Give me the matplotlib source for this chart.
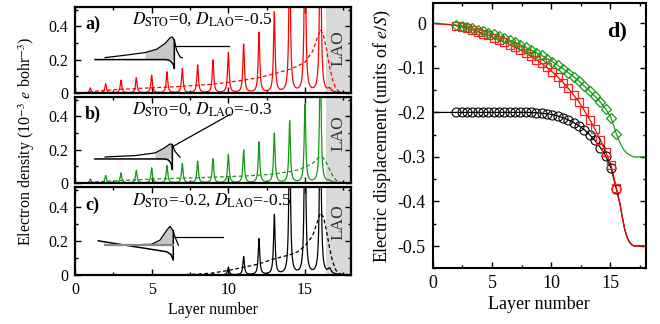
import numpy as np
import matplotlib.pyplot as plt
from matplotlib.ticker import MultipleLocator, FuncFormatter

plt.rcParams['font.family'] = ['Liberation Serif', 'DejaVu Serif']
plt.rcParams['mathtext.fontset'] = 'stix'
plt.rcParams['axes.unicode_minus'] = False

# ---- panels a-c: electron density per layer ----
layers = np.arange(1, 17)
peaks_a = [0.03, 0.055, 0.076, 0.09, 0.106, 0.126, 0.146, 0.166, 0.196, 0.24,
           0.29, 0.36, 0.48, 0.9, 1.0, 1.1]
peaks_b = [0.024, 0.044, 0.06, 0.074, 0.09, 0.104, 0.116, 0.13, 0.144, 0.17,
           0.196, 0.244, 0.296, 0.37, 0.47, 0.8]
peaks_c = [0, 0, 0, 0, 0, 0, 0, 0.002, 0.006, 0.045,
           0.107, 0.21, 0.35, 0.9, 1.0, 1.1]
shoulder = [0.02, 0.01, 0.03]          # small shoulder behind last peak (a, b, c)

avg_x_a = [0.5, 1, 1.5, 2, 3, 4, 5, 6, 7, 8, 9, 10, 11, 12, 13, 14, 14.5, 15,
           15.5, 15.8, 16.0, 16.2, 16.4, 16.6, 16.8, 17.0, 17.2, 17.5]
avg_a = [0, 0.008, 0.012, 0.016, 0.022, 0.027, 0.031, 0.035, 0.04, 0.046, 0.053,
         0.064, 0.077, 0.092, 0.115, 0.142, 0.16, 0.185, 0.25, 0.33, 0.38, 0.35,
         0.26, 0.16, 0.08, 0.03, 0.01, 0]
avg_x_b = avg_x_a
avg_b = [0, 0.005, 0.008, 0.01, 0.015, 0.019, 0.023, 0.026, 0.029, 0.032, 0.035,
         0.038, 0.042, 0.047, 0.054, 0.068, 0.078, 0.095, 0.118, 0.145, 0.158,
         0.15, 0.12, 0.08, 0.045, 0.02, 0.007, 0]
avg_x_c = [6, 7, 8, 9, 10, 11, 12, 13, 14, 14.5, 15, 15.5, 15.8, 16.0, 16.2,
           16.4, 16.6, 16.8, 17.0, 17.2, 17.5]
avg_c = [0, 0.002, 0.005, 0.012, 0.027, 0.045, 0.065, 0.095, 0.118, 0.135, 0.17,
         0.23, 0.31, 0.363, 0.34, 0.26, 0.16, 0.08, 0.03, 0.01, 0]

labels = ['a)', 'b)', 'c)']
titles = [r'$D_{\rm STO}$=0, $D_{\rm LAO}$=-0.5',
          r'$D_{\rm STO}$=0, $D_{\rm LAO}$=-0.3',
          r'$D_{\rm STO}$=-0.2, $D_{\rm LAO}$=-0.5']
colors = ['#ff0000', '#129a12', '#000000']

# inset sketches (band profile), data coords of each panel
ins_up_x = [[1.96, 3.26, 4.57, 5.33, 5.87, 6.2, 6.35, 6.48, 6.63, 6.85, 7.0],
            [1.96, 3.91, 5.22, 5.76, 6.2, 6.35, 6.52, 6.85],
            [4.0, 5.0, 5.54, 5.98, 6.2, 6.41, 6.52, 6.74]]
ins_up_y = [[0.212, 0.226, 0.242, 0.262, 0.296, 0.33, 0.336, 0.316, 0.256, 0.216, 0.21],
            [0.156, 0.164, 0.18, 0.206, 0.234, 0.23, 0.19, 0.154],
            [0.177, 0.18, 0.204, 0.262, 0.285, 0.258, 0.223, 0.175]]
ins_fill = [(2, 7, 0.2), (2, 5, 0.144), (0, 5, 0.175)]   # start idx, edge idx, base
ins_lo_x = [[1.3, 5.9, 6.15, 6.3, 6.42, 6.48, 6.48],
            [1.3, 5.8, 6.05, 6.2, 6.3, 6.35, 6.35],
            [1.52, 5.0, 5.98, 6.26, 6.41, 6.41]]
ins_lo_y = [[0.2, 0.2, 0.196, 0.185, 0.168, 0.146, 0.316],
            [0.144, 0.144, 0.14, 0.128, 0.108, 0.08, 0.23],
            [0.2, 0.15, 0.136, 0.12, 0.087, 0.258]]
ins_r_x = [[6.52, 10.05], [6.41, 10.1], [6.52, 9.67]]
ins_r_y = [[0.282, 0.282], [0.22, 0.41], [0.223, 0.223]]

# ---- panel d: electric displacement ----
d_x = np.linspace(2.0, 15.5, 31)
d_red = [-0.005, -0.008, -0.011, -0.015, -0.019, -0.023, -0.027, -0.032, -0.037,
         -0.042, -0.048, -0.054, -0.060, -0.067, -0.074, -0.082, -0.090, -0.099,
         -0.109, -0.120, -0.133, -0.146, -0.161, -0.177, -0.196, -0.216, -0.238,
         -0.262, -0.288, -0.318, -0.370]
d_green = [-0.004, -0.006, -0.008, -0.011, -0.014, -0.017, -0.021, -0.025, -0.029,
           -0.033, -0.038, -0.043, -0.048, -0.054, -0.060, -0.066, -0.072, -0.079,
           -0.086, -0.094, -0.102, -0.111, -0.120, -0.130, -0.141, -0.152, -0.164,
           -0.177, -0.192, -0.212, -0.248]
d_black = [-0.2] * 15 + [-0.201, -0.202, -0.203, -0.205, -0.208, -0.212, -0.217,
                         -0.223, -0.230, -0.239, -0.250, -0.263, -0.279, -0.298,
                         -0.325, -0.372]
head_x = [0, 0.5, 1.0, 1.5]
head_red = [0, -0.001, -0.002, -0.003]
head_black = [-0.2, -0.2, -0.2, -0.2]
tail_x_red = [15.8, 16.0, 16.2, 16.4, 16.6, 16.8, 17.0, 18.0]
tail_red = [-0.405, -0.435, -0.462, -0.48, -0.491, -0.497, -0.5, -0.5]
tail_x_green = [15.8, 16.1, 16.4, 16.7, 17.0, 18.0]
tail_green = [-0.268, -0.283, -0.292, -0.297, -0.3, -0.3]

fig = plt.figure(figsize=(6.6, 3.24), dpi=100)
boxes = [(0.1136, 0.713, 0.4182, 0.2654),
         (0.1136, 0.4352, 0.4182, 0.2654),
         (0.1136, 0.1512, 0.4182, 0.2716)]
peaks = [peaks_a, peaks_b, peaks_c]
avgx = [avg_x_a, avg_x_b, avg_x_c]
avgy = [avg_a, avg_b, avg_c]
lao_y = [0.27, 0.30, 0.31]
gam = 0.06

xx = np.linspace(0, 18, 4000)


def tick_fmt(v, p):
    v = round(v, 6)
    return '0' if v == 0 else f'{v:g}'


fmt = FuncFormatter(tick_fmt)
for i in range(3):
    ax = fig.add_axes(boxes[i])
    ax.axvspan(16.4, 18, color='#d9d9d9', lw=0, zorder=0)
    dens = np.zeros_like(xx)
    for p, h in zip(layers, peaks[i]):
        dens += h * gam**2 / ((xx - p)**2 + gam**2)
    dens += shoulder[i] * 0.12**2 / ((xx - 16.6)**2 + 0.12**2)
    ax.plot(xx, dens, color=colors[i], lw=0.9)
    ax.plot(avgx[i], avgy[i], color=colors[i], lw=0.9, ls=(0, (3, 2)))
    # inset sketch
    s, e, base = ins_fill[i]
    ax.fill_between(ins_up_x[i][s:e + 1], ins_up_y[i][s:e + 1], base,
                    color='#c8c8c8', lw=0)
    ax.plot(ins_up_x[i], ins_up_y[i], color='k', lw=0.9)
    ax.plot(ins_lo_x[i], ins_lo_y[i], color='k', lw=1.1)
    ax.plot(ins_r_x[i], ins_r_y[i], color='k', lw=0.9)
    if i == 2:
        ax.plot([1.96, 6.41], [0.175, 0.175], color='#888888', lw=1.6)
    ax.text(0.65, 0.41, labels[i], fontsize=13, fontweight='bold', va='center')
    ax.text(3.7, 0.44, titles[i], fontsize=12.5, va='center')
    ax.text(17.2, lao_y[i], 'LAO', rotation=90, fontsize=12.5, color='#333333',
            ha='center', va='center')
    ax.set_xlim(0, 18)
    ax.set_ylim(0, 0.515)
    ax.xaxis.set_major_locator(MultipleLocator(5))
    ax.xaxis.set_minor_locator(MultipleLocator(2.5))
    ax.yaxis.set_major_locator(MultipleLocator(0.2))
    ax.yaxis.set_minor_locator(MultipleLocator(0.1))
    ax.yaxis.set_major_formatter(fmt)
    ax.tick_params(which='both', direction='in', top=True, right=True,
                   labelsize=11.5, width=1)
    ax.tick_params(which='major', length=4, pad=5)
    ax.tick_params(which='minor', length=2.2)
    for sp in ax.spines.values():
        sp.set_linewidth(1.6)
    if i < 2:
        ax.tick_params(labelbottom=False)
    else:
        ax.set_xlabel('Layer number', fontsize=11.5, labelpad=3)

fig.text(0.04, 0.565, r'Electron density (10$^{-3}$ $e$ bohr$^{-3}$)',
         rotation=90, fontsize=11.5, ha='center', va='center')

# right panel
axd = fig.add_axes((0.6556, 0.1719, 0.3232, 0.8179))
axd.plot(head_x + list(d_x) + tail_x_green, head_red + d_green + tail_green,
         color='#1a9a1a', lw=0.9)
axd.plot(head_x + list(d_x) + tail_x_red, head_black + d_black + tail_red,
         color='k', lw=0.9)
axd.plot(head_x + list(d_x) + tail_x_red, head_red + d_red + tail_red,
         color='#ff0000', lw=0.9)
axd.plot(d_x, d_black, 'o', mfc='none', mec='k', ms=6.5, mew=0.8)
axd.plot(d_x, d_red, 's', mfc='none', mec='#ff2020', ms=6, mew=0.9)
axd.plot(d_x, d_green, 'D', mfc='none', mec='#1a9a1a', ms=5, mew=0.9)
axd.text(15.55, -0.018, 'd)', fontsize=16, fontweight='bold',
         ha='center', va='center')
axd.set_xlim(0, 18)
axd.set_ylim(-0.55, 0.045)
axd.xaxis.set_major_locator(MultipleLocator(5))
axd.xaxis.set_minor_locator(MultipleLocator(2.5))
axd.yaxis.set_major_locator(MultipleLocator(0.1))
axd.yaxis.set_minor_locator(MultipleLocator(0.05))
axd.yaxis.set_major_formatter(fmt)
axd.tick_params(which='both', direction='in', top=True, right=True,
                labelsize=13, width=1)
axd.tick_params(which='major', length=4.5, pad=5)
axd.tick_params(which='minor', length=2.5)
for sp in axd.spines.values():
    sp.set_linewidth(1.5)
axd.set_xlabel('Layer number', fontsize=13, labelpad=3)
fig.text(0.579, 0.58, r'Electric displacement (units of $e/S$)', rotation=90,
         fontsize=13, ha='center', va='center')

fig.savefig('out.png', dpi=100)
